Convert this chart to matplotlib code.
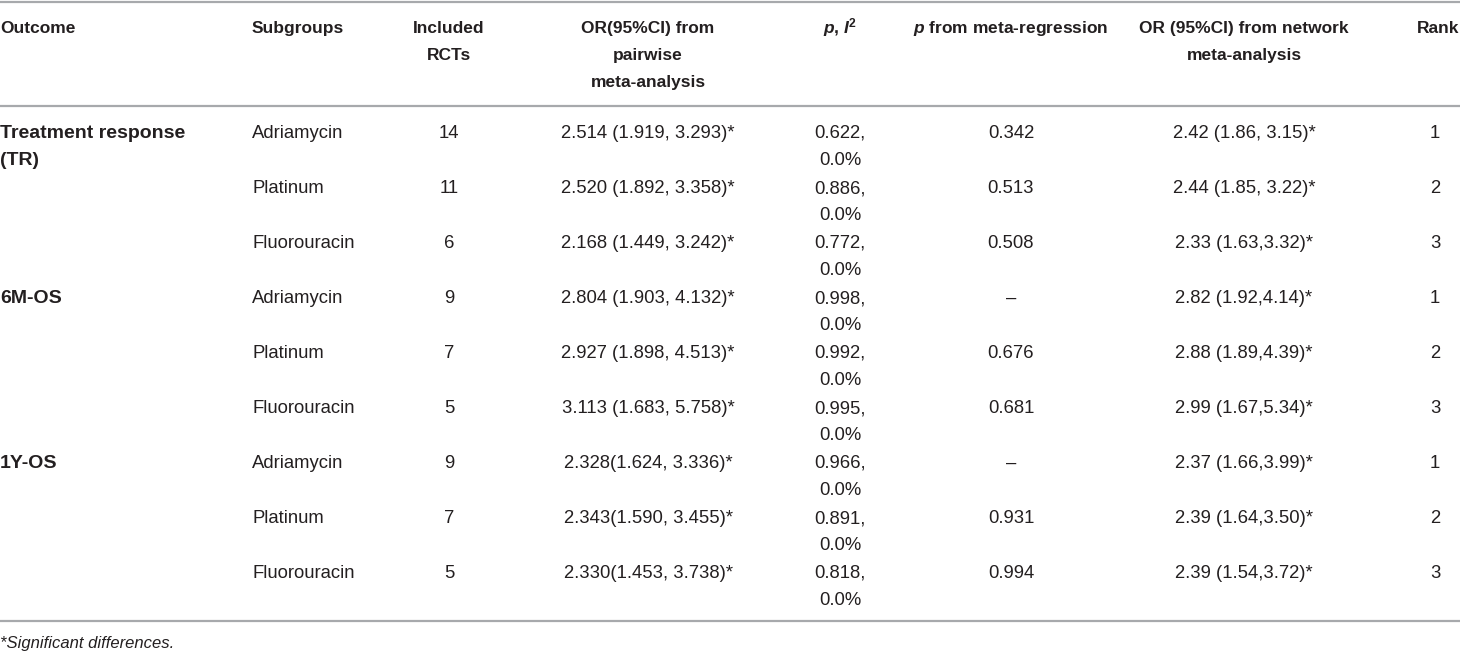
import matplotlib.pyplot as plt

# data of the table
outcomes = ["Treatment response\n(TR)", "6M-OS", "1Y-OS"]
subgroups = ["Adriamycin", "Platinum", "Fluorouracin"]
included_rcts = ["14", "11", "6", "9", "7", "5", "9", "7", "5"]
or_pairwise = ["2.514 (1.919, 3.293)*", "2.520 (1.892, 3.358)*", "2.168 (1.449, 3.242)*",
               "2.804 (1.903, 4.132)*", "2.927 (1.898, 4.513)*", "3.113 (1.683, 5.758)*",
               "2.328(1.624, 3.336)*", "2.343(1.590, 3.455)*", "2.330(1.453, 3.738)*"]
p_i2 = ["0.622,\n0.0%", "0.886,\n0.0%", "0.772,\n0.0%",
        "0.998,\n0.0%", "0.992,\n0.0%", "0.995,\n0.0%",
        "0.966,\n0.0%", "0.891,\n0.0%", "0.818,\n0.0%"]
p_metareg = ["0.342", "0.513", "0.508", "–", "0.676", "0.681", "–", "0.931", "0.994"]
or_network = ["2.42 (1.86, 3.15)*", "2.44 (1.85, 3.22)*", "2.33 (1.63,3.32)*",
              "2.82 (1.92,4.14)*", "2.88 (1.89,4.39)*", "2.99 (1.67,5.34)*",
              "2.37 (1.66,3.99)*", "2.39 (1.64,3.50)*", "2.39 (1.54,3.72)*"]
ranks = ["1", "2", "3", "1", "2", "3", "1", "2", "3"]
footnote = "*Significant differences."

headers = ["Outcome", "Subgroups", "Included\nRCTs", "OR(95%CI) from\npairwise\nmeta-analysis",
           r"$\bfit{p}$, $\bfit{I}^{\mathbf{2}}$", r"$\bfit{p}$ from meta-regression",
           "OR (95%CI) from network\nmeta-analysis", "Rank"]

plt.rcParams['font.family'] = ['Liberation Sans', 'DejaVu Sans']
plt.rcParams['mathtext.fontset'] = 'custom'
plt.rcParams['mathtext.rm'] = 'Liberation Sans'
plt.rcParams['mathtext.it'] = 'Liberation Sans:italic'
plt.rcParams['mathtext.bf'] = 'Liberation Sans:bold'
plt.rcParams['mathtext.bfit'] = 'Liberation Sans:italic:bold'

txt_col = "#231f20"
line_col = "#a7a9ac"
fs_head = 12.5
fs_body = 13.3
fs_bold = 14
lh = 27  # line height in px

fig = plt.figure(figsize=(14.6, 6.53), dpi=100)
ax = fig.add_axes([0, 0, 1, 1])
ax.set_xlim(0, 1460)
ax.set_ylim(653, 0)
ax.axis("off")


def put(x, y, s, ha, **kw):
    # one text per line so the line height is exact
    for k, line in enumerate(s.split("\n")):
        ax.text(x, y + k * lh, line, ha=ha, va="baseline", color=txt_col, **kw)


# rules
for y in [1.5, 106, 621]:
    ax.plot([0, 1460], [y, y], color=line_col, lw=1.6, solid_capstyle="butt")

# header
col_x = [0, 252, 449, 648, 840, 1011, 1244, 1459]
col_ha = ["left", "left", "center", "center", "center", "center", "center", "right"]
hy = 33
for x, ha, h in zip(col_x, col_ha, headers):
    put(x, hy, h, ha, fontsize=fs_head, fontweight="bold")

# body
y0 = 138
dy = 55
for i in range(9):
    y = y0 + i * dy
    if i % 3 == 0:
        put(0, y, outcomes[i // 3], "left", fontsize=fs_bold, fontweight="bold")
    put(252, y, subgroups[i % 3], "left", fontsize=fs_body)
    put(449, y, included_rcts[i], "center", fontsize=fs_body)
    put(648, y, or_pairwise[i], "center", fontsize=fs_body)
    put(840, y, p_i2[i], "center", fontsize=fs_body)
    put(1011, y, p_metareg[i], "center", fontsize=fs_body)
    put(1244, y, or_network[i], "center", fontsize=fs_body)
    put(1435, y, ranks[i], "center", fontsize=fs_body)

put(0, 648, footnote, "left", fontsize=12, style="italic")

fig.savefig("out.png", dpi=100)
